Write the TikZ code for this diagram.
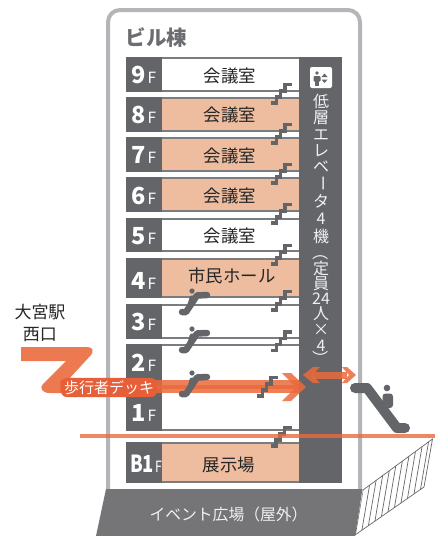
\documentclass[tikz,border=0pt]{standalone}
\usepackage{fontspec}
\setmainfont{Noto Sans CJK JP}
\usetikzlibrary{calc}
\definecolor{bargrey}{HTML}{636569}
\definecolor{wallgrey}{HTML}{B4B5B8}
\definecolor{plaza}{HTML}{757577}
\definecolor{salmon}{HTML}{EEBC9E}
\definecolor{deck}{HTML}{EA6A3C}
\definecolor{deckdark}{HTML}{E65F38}
\definecolor{soft}{HTML}{F0F0F0}
\tikzset{
  x=1pt,y=-1pt,
  floorline/.style={bargrey!85,line width=2pt},
  roomtext/.style={font=\fontsize{17.4}{20}\selectfont,text=black!85,inner sep=0pt},
  flabel/.style={text=white,inner sep=0pt},
  vtext/.style={font=\fontsize{16}{17}\selectfont,text=soft,inner sep=0pt},
  stairline/.style={draw=bargrey,line width=3.4pt,line join=miter},
  esc/.style={draw=bargrey,line width=6.5pt,line cap=round,line join=round},
  seethrough/.style={fill=deck,fill opacity=0.85},
}
\newcommand{\flab}[1]{\fontsize{23.5}{26}\selectfont\bfseries #1\hspace{1.5pt}\fontsize{15.5}{18}\selectfont\mdseries F}
\newcommand{\floorbox}[6]{% name, top, bottom, room colour, digit, text y
  \fill[bargrey] (126,#2) rectangle (162,#3);
  \fill[#4] (162,#2) rectangle (299,#3);
  \draw[floorline] (162,#2+1) -- (299,#2+1);
  \draw[floorline] (162,#3-1) -- (299,#3-1);
  \node[flabel] (#1) at (144,#6) {\flab{#5}};
}
\newcommand{\stairs}[2]{% centre x, centre y
  \draw[stairline,shift={(#1,#2)}] (10.5,-9.5) -- (3.5,-9.5) -- (3.5,-3) -- (-1,-3) -- (-1,3) -- (-5,3) -- (-5,9) -- (-10.5,9);
}
\newcommand{\escal}[1]{% y shift
  \begin{scope}[shift={(0,#1)}]
    \draw[esc] (207,295) -- (197,295.5) -- (186,312) -- (182,312);
    \draw[bargrey,line width=5pt,line cap=round] (192,298) -- (190,305);
    \fill[bargrey] (192,291) circle (2.6);
  \end{scope}
}
\begin{document}
\begin{tikzpicture}
\useasboundingbox (0,0) rectangle (440,536);
\fill[white] (0,0) rectangle (440,536);
% building outline
\draw[wallgrey,line width=4pt,rounded corners=12pt] (108,491) -- (108,10) -- (360,10) -- (360,491);
\node[font=\fontsize{20.5}{24}\selectfont\bfseries,text=bargrey!95,inner sep=0pt] (title) at (156.5,38) {ビル棟};
% plaza
\fill[plaza] (106,489) -- (362.5,489) -- (355,536) -- (96,536) -- cycle;
\node[font=\fontsize{15.8}{18}\selectfont,text=soft,inner sep=0pt] (plazatext) at (228.5,514.5) {イベント広場（屋外）};
% hatch
\begin{scope}
  \clip (363,490) -- (432.5,439) -- (424,487) -- (355,535) -- cycle;
  \foreach \t in {0,...,10}{
    \draw[black!60,line width=0.7pt] ($(363,490)!\t/10.6!(432.5,439)$) -- ++(-8,47);
  }
\end{scope}
\draw[black!60,line width=0.7pt] (363,490) -- (432.5,439) -- (424,487) -- (355,535);
% floors
\floorbox{f9}{57}{92}{white}{9}{75}
\floorbox{f8}{97}{132}{salmon}{8}{115}
\floorbox{f7}{137}{172}{salmon}{7}{155}
\floorbox{f6}{177}{212}{salmon}{6}{196}
\floorbox{f5}{218}{252}{white}{5}{236}
\floorbox{f4}{258}{298}{salmon}{4}{281}
\floorbox{f3}{304}{339}{white}{3}{322}
\fill[bargrey] (126,344) rectangle (162,431);
\draw[floorline] (162,345) -- (299,345);
\draw[floorline] (162,430) -- (299,430);
\fill[bargrey] (126,442) rectangle (162,483);
\fill[salmon] (162,442) rectangle (299,483);
\draw[floorline] (162,443) -- (299,443);
\draw[floorline] (162,482) -- (299,482);
\node[flabel] (f2) at (144,363) {\flab{2}};
\node[flabel] (f1) at (144,413) {\flab{1}};
\node[flabel] (fb1) at (146,464) {\fontsize{23.5}{26}\selectfont\bfseries \scalebox{0.78}[1]{B1}\hspace{1pt}\scalebox{0.8}[1]{\fontsize{15.5}{18}\selectfont\mdseries F}};
% room texts
\foreach \n/\y in {r9/76,r8/115,r7/156,r6/196,r5/236}{
  \node[roomtext] (\n) at (230,\y) {会議室};
}
\node[roomtext] (r4) at (232,276) {市民ホール};
\node[roomtext] (rb1) at (229,465) {展示場};
% elevator bar
\fill[bargrey] (299,57) rectangle (342,483);
\fill[white,rounded corners=2pt] (310,67) rectangle (332,88);
\fill[bargrey] (317,73) circle (1.9);
\fill[bargrey,rounded corners=1pt] (313.5,76) rectangle (320.5,81.5);
\fill[bargrey] (315,80) rectangle (319,85.5);
\fill[bargrey] (324.5,73.5) -- (327.5,77) -- (321.5,77) -- cycle;
\fill[bargrey] (324.5,83) -- (327.5,79.5) -- (321.5,79.5) -- cycle;
\foreach \c/\y/\r in {低/101/0,層/118/0,エ/135/0,レ/151/0,ベ/167/0,ー/183/-90,タ/201/0,4/219/0,機/236/0,（/252/-90,定/268/0,員/284/0,24/299/0,人/314/0,×/330/0,4/346/0,）/358/-90}{
  \node[vtext,rotate=\r] (v\y) at (321,\y) {\c};
}
% stairs
\foreach \y in {94,134,174,214,255,301,341.5}{ \stairs{281.5}{\y} }
\stairs{281}{437}
% deck
\fill[deck!90!white] (21,347) -- (87,347) .. controls (93,347) and (94,351) .. (91,355) -- (68,380) -- (68,393) -- (50,393) .. controls (42,393) and (39,388) .. (43,384) -- (66,361) -- (21,361) -- cycle;
\fill[seethrough] (60,380) rectangle (299,389);
\fill[seethrough] (60,385) rectangle (299,393);
\fill[seethrough] (282,373) -- (291,373) -- (306,387) -- (291,401) -- (282,401) -- (296,387) -- cycle;
% elevator link
\fill[seethrough] (312,372) rectangle (347,378.5);
\fill[seethrough] (303,375) -- (313,367) -- (320,367) -- (312,375) -- (320,383) -- (313,383) -- cycle;
\fill[seethrough] (342,367) -- (347,367) -- (356,375) -- (347,383) -- (342,383) -- (349,375) -- cycle;
% icons on the deck
\escal{0}
\escal{38}
\escal{82}
\stairs{267.5}{387}
% label
\node[fill=deckdark,rounded corners=6pt,inner xsep=3pt,inner ysep=2.5pt,text=white,font=\fontsize{15}{16}\selectfont] (decklabel) at (109,387.5) {歩行者デッキ};
\node[font=\fontsize{17}{22}\selectfont,text=black!85,align=center,inner sep=0pt] (station) at (40,322.5) {大宮駅\\西口};
% big escalator
\draw[bargrey,line width=10pt,line cap=round,line join=round] (355,388) -- (367,388) -- (397,428) -- (405,428);
\fill[bargrey] (387,388) circle (3.3);
\fill[bargrey,rounded corners=3pt] (382.5,393.5) rectangle (393,408);
% ground line
\fill[deck,fill opacity=0.8] (80,434) rectangle (435,438);
\end{tikzpicture}
\end{document}
